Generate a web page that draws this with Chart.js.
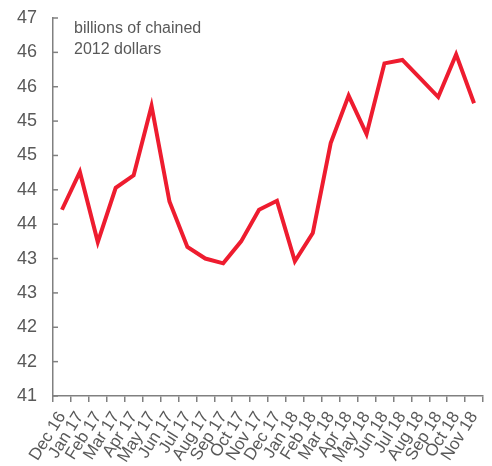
<!DOCTYPE html>
<html>
<head>
<meta charset="utf-8">
<script src="https://cdn.jsdelivr.net/npm/chart.js@4/dist/chart.umd.min.js"></script>
<style>
  html, body { margin: 0; padding: 0; background: #ffffff; }
  #wrap { width: 492px; height: 466px; position: relative; }
</style>
</head>
<body>
<div id="wrap"><canvas id="c" width="492" height="466"></canvas></div>
<script>
const categories = ['Dec 16','Jan 17','Feb 17','Mar 17','Apr 17','May 17','Jun 17','Jul 17','Aug 17','Sep 17','Oct 17','Nov 17',
                    'Dec 17','Jan 18','Feb 18','Mar 18','Apr 18','May 18','Jun 18','Jul 18','Aug 18','Sep 18','Oct 18','Nov 18'];
const values = [43.71, 44.26, 43.24, 44.03, 44.21, 45.22, 43.83, 43.17, 43.00, 42.93, 43.25, 43.71,
                43.84, 42.96, 43.37, 44.68, 45.37, 44.81, 45.84, 45.89, 45.62, 45.35, 45.97, 45.26];
const yTickValues = [41, 41.5, 42, 42.5, 43, 43.5, 44, 44.5, 45, 45.5, 46, 46.5];
const yTickLabels = ['41','42','42','43','43','44','44','45','45','46','46','47'];
const unitNote = ['billions of chained', '2012 dollars'];

const AXIS = '#808080';
const TEXT = '#595959';
const FONT = '"Liberation Sans", Arial, sans-serif';

const extras = {
  id: 'extras',
  afterDraw(chart) {
    const ctx = chart.ctx;
    const y = chart.scales.y;
    const left = chart.chartArea.left;
    ctx.save();
    ctx.strokeStyle = AXIS;
    ctx.lineWidth = 1.5;
    yTickValues.forEach(v => {
      const py = y.getPixelForValue(v);
      ctx.beginPath();
      ctx.moveTo(left, py);
      ctx.lineTo(left + 5, py);
      ctx.stroke();
    });
    ctx.fillStyle = TEXT;
    ctx.font = '16px ' + FONT;
    ctx.textAlign = 'left';
    ctx.textBaseline = 'alphabetic';
    unitNote.forEach((t, i) => ctx.fillText(t, left + 21, 33 + i * 21));
    ctx.restore();
  }
};

new Chart(document.getElementById('c'), {
  type: 'line',
  data: {
    labels: categories,
    datasets: [{
      data: values,
      borderColor: '#EE1C2F',
      borderWidth: 4,
      pointRadius: 0,
      tension: 0,
      fill: false
    }]
  },
  options: {
    responsive: false,
    animation: false,
    devicePixelRatio: 1,
    layout: { padding: { top: 18, right: 9, left: 0, bottom: 0 } },
    plugins: { legend: { display: false }, tooltip: { enabled: false } },
    scales: {
      x: {
        type: 'category',
        offset: true,
        grid: { offset: true, drawOnChartArea: false, drawTicks: true, tickLength: 6, color: AXIS, lineWidth: 1.5 },
        border: { display: true, color: AXIS, width: 1.5 },
        ticks: {
          autoSkip: false, maxRotation: 58, minRotation: 58, padding: 6,
          color: TEXT, font: { family: FONT, size: 17 }
        },
        afterFit(scale) { scale.height = 70; scale.paddingLeft = 0; scale.paddingRight = 0; }
      },
      y: {
        min: 41, max: 46.5,
        afterBuildTicks(scale) { scale.ticks = yTickValues.map(v => ({ value: v })); },
        grid: { drawOnChartArea: false, drawTicks: false },
        border: { display: true, color: AXIS, width: 1.5 },
        ticks: {
          padding: 16, color: TEXT, font: { family: FONT, size: 18 },
          callback: (v, i) => yTickLabels[i]
        },
        afterFit(scale) { scale.width = 53; scale.paddingTop = 0; scale.paddingBottom = 0; }
      }
    }
  },
  plugins: [extras]
});
</script>
</body>
</html>
